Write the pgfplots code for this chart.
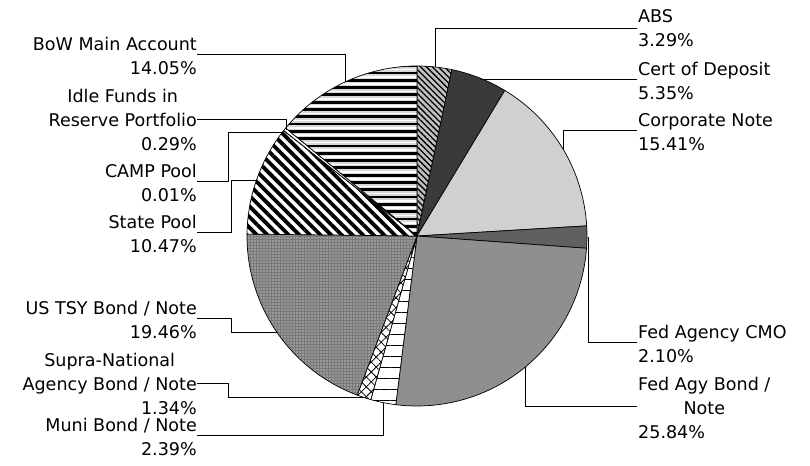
\documentclass[border=0pt]{standalone}
\usepackage{fontspec}
\setmainfont{DejaVu Sans}
\usepackage{pgfplots}
\pgfplotsset{compat=1.18}
\usetikzlibrary{patterns.meta}

\definecolor{cdep}{HTML}{3A3A3A}
\definecolor{corp}{HTML}{D0D0D0}
\definecolor{cmo}{HTML}{606060}
\definecolor{fedagy}{HTML}{8F8F8F}
\definecolor{tsy}{HTML}{7A7A7A}
\definecolor{absbg}{HTML}{C0C0C0}
\definecolor{bowbg}{HTML}{D8D8D8}

\tikzset{lbl/.style={font=\fontsize{17.6}{24.5}\selectfont, inner sep=0pt}}

% centre #2 over the width of #1
\newsavebox\wbox
\newcommand\ctr[2]{\sbox\wbox{#1}\makebox[\wd\wbox][c]{#2}}

% slice path: start (%), share (%) -- clockwise from 12 o'clock
\newcommand\slicepath[2]{(axis cs:417,230) -- ++({90-3.6*(#1)}:170bp)
    arc[start angle={90-3.6*(#1)}, end angle={90-3.6*(#1+#2)}, radius=170bp] -- cycle}
\newcommand\slice[3]{%
  \path[#3] \slicepath{#1}{#2};
  \draw[black, line width=0.7bp, line join=round] \slicepath{#1}{#2};
}

\begin{document}
\begin{tikzpicture}
\begin{axis}[
    x=1bp, y=1bp,
    xmin=0, xmax=810, ymin=0, ymax=466,
    hide axis, clip=false,
]
% pie slices
\slice{0}{3.29}{preaction={fill=absbg}, pattern={Lines[angle=-45,distance=4.2bp,line width=1.3bp]}, pattern color=black}  % ABS
\slice{3.29}{5.35}{fill=cdep}      % Cert of Deposit
\slice{8.64}{15.41}{fill=corp}     % Corporate Note
\slice{24.05}{2.10}{fill=cmo}      % Fed Agency CMO
\slice{26.15}{25.84}{fill=fedagy}  % Fed Agy Bond / Note
\slice{51.99}{2.39}{preaction={fill=white}, pattern={Lines[angle=0,distance=11bp,line width=0.8bp]}, pattern color=black} % Muni
\slice{54.38}{1.34}{preaction={fill=white}, pattern={Lines[angle=45,distance=7bp,line width=0.8bp]}, pattern color=black,
   postaction={pattern={Lines[angle=-45,distance=7bp,line width=0.8bp]}, pattern color=black}} % Supra-National
\slice{55.72}{19.46}{preaction={fill=tsy}, pattern={Dots[distance=3bp,radius=0.6bp]}, pattern color=white} % US TSY
\slice{75.18}{10.47}{preaction={fill=white}, pattern={Lines[angle=-45,distance=7.5bp,line width=3.8bp]}, pattern color=black} % State Pool
\slice{85.65}{0.01}{fill=white}    % CAMP Pool
\slice{85.66}{0.29}{fill=white}    % Idle Funds
% BoW Main Account: horizontal stripes
\path[fill=bowbg] \slicepath{85.95}{14.05};
\begin{scope}
  \clip \slicepath{85.95}{14.05};
  \pgfplotsinvokeforeach{0,...,24}{
    \fill[black] (axis cs:240,{231+7.3*#1}) rectangle ++(190bp,2.8bp);
    \fill[white] (axis cs:240,{235+7.3*#1}) rectangle ++(190bp,1.6bp);
  }
\end{scope}
\draw[black, line width=0.7bp, line join=round] \slicepath{85.95}{14.05};

% leader lines
\addplot[black, line width=0.8bp, mark=none] coordinates {(637,438) (435,438) (435,399)};
\addplot[black, line width=0.8bp, mark=none] coordinates {(637,387) (481,387)};
\addplot[black, line width=0.8bp, mark=none] coordinates {(637,336) (563,336) (563,317)};
\addplot[black, line width=0.8bp, mark=none] coordinates {(637,124) (588,124) (588,229)};
\addplot[black, line width=0.8bp, mark=none] coordinates {(637,60) (525,60) (525,98.5)};
\addplot[black, line width=0.8bp, mark=none] coordinates {(197,31) (383,31) (383,63)};
\addplot[black, line width=0.8bp, mark=none] coordinates {(197,83) (228,83) (228,69) (364,69)};
\addplot[black, line width=0.8bp, mark=none] coordinates {(197,148) (231,148) (231,134) (277,134)};
\addplot[black, line width=0.8bp, mark=none] coordinates {(197,234) (231,234) (231,286) (256,286)};
\addplot[black, line width=0.8bp, mark=none] coordinates {(197,285) (228,285) (228,334) (284,334)};
\addplot[black, line width=0.8bp, mark=none] coordinates {(197,347) (286,347) (286,336)};
\addplot[black, line width=0.8bp, mark=none] coordinates {(197,412) (345,412) (345,384)};

% labels, right side
\node[lbl, anchor=west, align=left] at (axis cs:638,438) {ABS\\3.29\%};
\node[lbl, anchor=west, align=left] at (axis cs:638,385) {Cert of Deposit\\5.35\%};
\node[lbl, anchor=west, align=left] at (axis cs:638,334) {Corporate Note\\15.41\%};
\node[lbl, anchor=west, align=left] at (axis cs:638,122) {Fed Agency CMO\\2.10\%};
\node[lbl, anchor=west, align=left] at (axis cs:638,58) {Fed Agy Bond /\\\ctr{Fed Agy Bond /}{Note}\\25.84\%};
% labels, left side
\node[lbl, anchor=east, align=right] at (axis cs:197,410) {BoW Main Account\\14.05\%};
\node[lbl, anchor=east, align=right] at (axis cs:197,346) {\ctr{Reserve Portfolio}{Idle Funds in}\\Reserve Portfolio\\0.29\%};
\node[lbl, anchor=east, align=right] at (axis cs:197,283) {CAMP Pool\\0.01\%};
\node[lbl, anchor=east, align=right] at (axis cs:197,232) {State Pool\\10.47\%};
\node[lbl, anchor=east, align=right] at (axis cs:197,146) {US TSY Bond / Note\\19.46\%};
\node[lbl, anchor=east, align=right] at (axis cs:197,82) {\ctr{Agency Bond / Note}{Supra-National}\\Agency Bond / Note\\1.34\%};
\node[lbl, anchor=east, align=right] at (axis cs:197,29) {Muni Bond / Note\\2.39\%};
\end{axis}
\pgfresetboundingbox
\path (0,0) rectangle (810bp,466bp);
\end{tikzpicture}
\end{document}
